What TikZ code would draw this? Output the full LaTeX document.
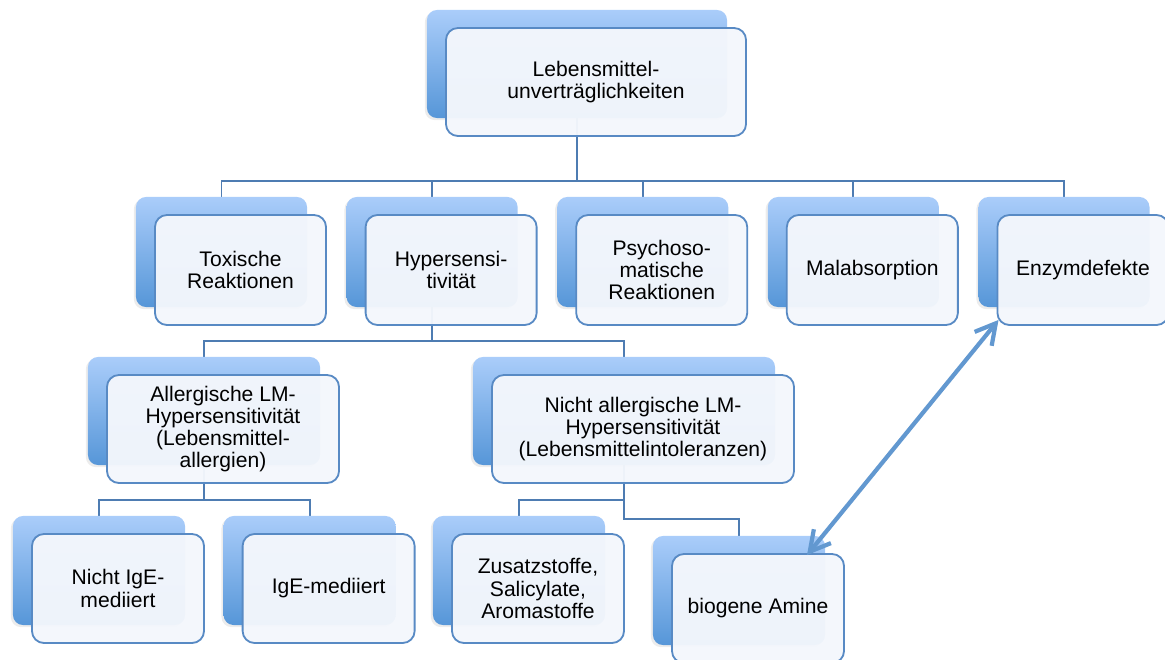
\documentclass[tikz,border=0pt]{standalone}
\usepackage{fontspec}
\setmainfont{Liberation Sans}
\usetikzlibrary{arrows.meta, positioning, calc, shadows, backgrounds}
\definecolor{backtop}{RGB}{170,205,250}
\definecolor{backbot}{RGB}{86,150,216}
\definecolor{edgeblue}{RGB}{88,138,196}
\definecolor{frontfill}{RGB}{244,247,252}
\definecolor{wireblue}{RGB}{78,124,178}
\definecolor{linkblue}{RGB}{98,152,208}
\newcommand{\boxfont}{\fontsize{15}{15.8}\selectfont}

\begin{document}
\begin{tikzpicture}[x=0.025cm, y=-0.025cm]
  \tikzstyle{back} = [rectangle, rounded corners=0.25cm, top color=backtop, bottom color=backbot, drop shadow={shadow xshift=-1.5pt, shadow yshift=-1.5pt, opacity=0.15}]
  \tikzstyle{front} = [rectangle, rounded corners=0.3cm, draw=edgeblue, line width=1.3pt, fill=frontfill, fill opacity=0.96, text opacity=1, align=center, font=\boxfont]
  \tikzstyle{headbox} = [minimum width=7.5cm, minimum height=2.7cm]
  \tikzstyle{smallbox} = [minimum width=4.275cm, minimum height=2.75cm]
  \tikzstyle{leafbox} = [minimum width=4.3cm, minimum height=2.725cm]
  \tikzstyle{wire} = [draw=wireblue, line width=1.3pt]
  \tikzstyle{link} = [draw=linkblue, line width=3pt, {Straight Barb[length=5mm, width=5.5mm]}-{Straight Barb[length=5mm, width=5.5mm]}]

  \useasboundingbox (0,0) rectangle (1165,659);

  % top
  \node [back, headbox] (top-b) at (577,64) {};
  \node [front, headbox] (top-f) at ($(top-b)+(19,18)$) {Lebensmittel-\\unverträglichkeiten};

  % first row
  \node [back, smallbox] (tox-b) at (221.5,252) {};
  \node [back, smallbox, right=0.975cm of tox-b] (hyp-b) {};
  \node [back, smallbox, right=0.975cm of hyp-b] (psy-b) {};
  \node [back, smallbox, right=0.975cm of psy-b] (mal-b) {};
  \node [back, smallbox, right=0.975cm of mal-b] (enz-b) {};
  \node [front, smallbox] (tox-f) at ($(tox-b)+(19,18)$) {Toxische\\Reaktionen};
  \node [front, smallbox] (hyp-f) at ($(hyp-b)+(19,18)$) {Hypersensi-\\tivität};
  \node [front, smallbox] (psy-f) at ($(psy-b)+(19,18)$) {Psychoso-\\matische\\Reaktionen};
  \node [front, smallbox] (mal-f) at ($(mal-b)+(19,18)$) {Malabsorption};
  \node [front, smallbox] (enz-f) at ($(enz-b)+(19,18)$) {Enzymdefekte};

  % second row
  \node [back, minimum width=5.8cm, minimum height=2.7cm] (alg-b) at (204,411) {};
  \node [back, minimum width=7.55cm, minimum height=2.7cm] (nal-b) at (624,411) {};
  \node [front, minimum width=5.8cm, minimum height=2.7cm] (alg-f) at ($(alg-b)+(19,18)$) {Allergische LM-\\Hypersensitivität\\(Lebensmittel-\\allergien)};
  \node [front, minimum width=7.55cm, minimum height=2.7cm] (nal-f) at ($(nal-b)+(19,18)$) {Nicht allergische LM-\\Hypersensitivität\\(Lebensmittelintoleranzen)};

  % third row
  \node [back, leafbox] (nie-b) at (99,570.5) {};
  \node [back, leafbox, right=0.95cm of nie-b] (ige-b) {};
  \node [back, leafbox] (zus-b) at (519,570.5) {};
  \node [back, leafbox] (bio-b) at (739,590.5) {};
  \node [front, leafbox] (nie-f) at ($(nie-b)+(19,18)$) {Nicht IgE-\\mediiert};
  \node [front, leafbox] (ige-f) at ($(ige-b)+(19,18)$) {IgE-mediiert};
  \node [front, leafbox] (zus-f) at ($(zus-b)+(19,18)$) {Zusatzstoffe,\\Salicylate,\\Aromastoffe};
  \node [front, leafbox] (bio-f) at ($(bio-b)+(19,18)$) {biogene Amine};

  \begin{scope}[on background layer]
    \draw[wire] (top-b.south) -- ++(0,63) coordinate (bus1);
    \foreach \n in {tox,hyp,psy,mal,enz} \draw[wire] (bus1) -| (\n-b.north);
    \draw[wire] (hyp-b.south) -- ++(0,34) coordinate (bus2);
    \foreach \n in {alg,nal} \draw[wire] (bus2) -| (\n-b.north);
    \draw[wire] (alg-b.south) -- ++(0,35) coordinate (bus3);
    \foreach \n in {nie,ige} \draw[wire] (bus3) -| (\n-b.north);
    \draw[wire] (nal-b.south) -- ++(0,35) -| (zus-b.north);
    \draw[wire] (nal-b.south) -- ++(0,54) -| (bio-b.north);
  \end{scope}

  \draw[link] ($(bio-f.north)+(49,2)$) -- ($(enz-f.south west)+(2,-6)$);
\end{tikzpicture}
\end{document}
